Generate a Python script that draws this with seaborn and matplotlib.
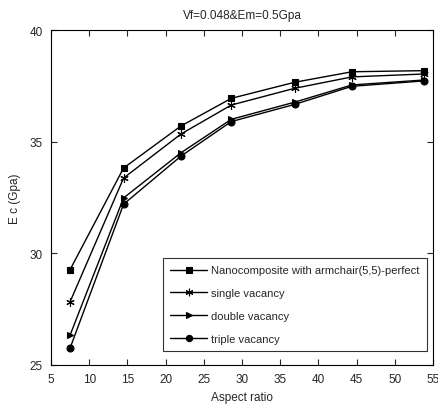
import matplotlib
matplotlib.use("Agg")
import matplotlib.pyplot as plt
import seaborn as sns
import pandas as pd

aspect_ratio = [7.5, 14.5, 22, 28.6, 36.9, 44.4, 53.8]
perfect = [29.27, 33.82, 35.70, 36.94, 37.66, 38.13, 38.18]
single = [27.83, 33.37, 35.34, 36.64, 37.39, 37.90, 38.03]
double = [26.34, 32.48, 34.50, 36.00, 36.77, 37.54, 37.76]
triple = [25.76, 32.20, 34.35, 35.90, 36.67, 37.48, 37.72]
labels = ["Nanocomposite with armchair(5,5)-perfect", "single vacancy",
          "double vacancy", "triple vacancy"]
markers = ["s", (6, 2, 0), ">", "o"]

sns.set_style("ticks")
plt.rcParams['font.family'] = ['Liberation Sans', 'DejaVu Sans']

fig = plt.figure(figsize=(4.38, 4.06), dpi=100)
ax = fig.add_axes([51/438, 1-366/406, (433-51)/438, (366-31)/406])

rows = []
for lab, vals in zip(labels, [perfect, single, double, triple]):
    for x, y in zip(aspect_ratio, vals):
        rows.append({"Aspect ratio": x, "Ec": y, "series": lab})
df = pd.DataFrame(rows)

for lab, m in zip(labels, markers):
    sub = df[df.series == lab]
    sns.lineplot(data=sub, x="Aspect ratio", y="Ec", ax=ax, color="black",
                 marker=m, markersize=5 if m != (6, 2, 0) else 6,
                 markeredgecolor="black", markerfacecolor="black",
                 markeredgewidth=0.8, linewidth=1.0, label=lab)

ax.set_xlim(5, 55)
ax.set_ylim(25, 40)
ax.set_xticks(range(5, 56, 5))
ax.set_yticks([25, 30, 35, 40])
ax.tick_params(direction="in", top=True, right=True, labelsize=8.5, length=4,
               width=0.8, pad=6)
for s in ax.spines.values():
    s.set_linewidth(0.8)
    s.set_color("black")
ax.set_xlabel("Aspect ratio", fontsize=8.5, labelpad=4)
ax.set_ylabel("E c (Gpa)", fontsize=8.5, labelpad=6)
ax.set_title("Vf=0.048&Em=0.5Gpa", fontsize=8.5, pad=9)

leg = ax.legend(loc="lower right", fontsize=8, frameon=True, fancybox=False,
                edgecolor="black", bbox_to_anchor=(427/438, 1-352/406),
                bbox_transform=fig.transFigure, borderaxespad=0,
                handlelength=3.3, handletextpad=0.4,
                labelspacing=1.15, borderpad=0.65, markerscale=0.9)
leg.get_frame().set_linewidth(0.8)

fig.savefig("out.png", dpi=100)
